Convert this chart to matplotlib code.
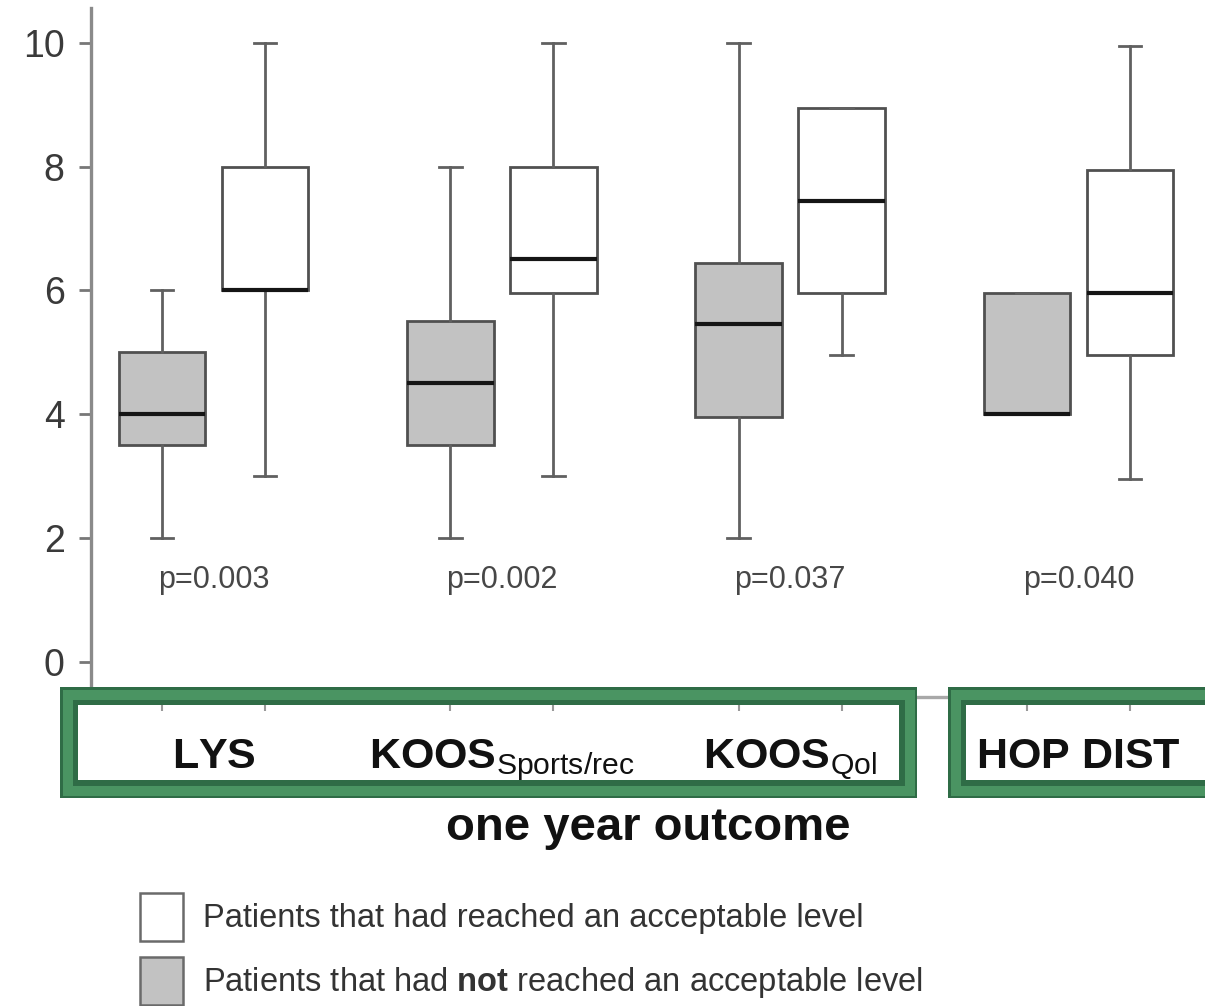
import matplotlib
matplotlib.use("Agg")
import matplotlib.pyplot as plt
from matplotlib.patches import Patch, PathPatch
from matplotlib.path import Path

plt.rcParams['font.family'] = ['Liberation Sans', 'DejaVu Sans']
plt.rcParams['mathtext.fontset'] = 'custom'
plt.rcParams['mathtext.rm'] = 'Liberation Sans'
plt.rcParams['mathtext.bf'] = 'Liberation Sans:bold'
plt.rcParams['mathtext.it'] = 'Liberation Sans:italic'

# ---------------- data ----------------
categories = ["LYS", "KOOS_Sports/rec", "KOOS_Qol", "HOP DIST"]
cat_labels = [r"$\mathbf{LYS}$", r"$\mathbf{KOOS}_{\mathrm{Sports/rec}}$",
              r"$\mathbf{KOOS}_{\mathrm{Qol}}$", r"$\mathbf{HOP\ DIST}$"]
p_values = ["p=0.003", "p=0.002", "p=0.037", "p=0.040"]

# not reached (gray)
not_whislo = [2.0, 2.0, 2.0, 4.0]
not_q1 = [3.5, 3.5, 3.95, 4.0]
not_med = [4.0, 4.5, 5.45, 4.0]
not_q3 = [5.0, 5.5, 6.45, 5.95]
not_whishi = [6.0, 8.0, 10.0, 5.95]

# reached (white)
yes_whislo = [3.0, 3.0, 4.95, 2.95]
yes_q1 = [6.0, 5.95, 5.95, 4.95]
yes_med = [6.0, 6.5, 7.45, 5.95]
yes_q3 = [8.0, 8.0, 8.95, 7.95]
yes_whishi = [10.0, 10.0, 8.95, 9.95]

yticks = [0, 2, 4, 6, 8, 10]
legend_labels = ["Patients that had reached an acceptable level",
                 r"Patients that had $\mathbf{not}$ reached an acceptable level"]
xlabel = "one year outcome"

# ---------------- figure ----------------
W, H = 1205, 1006
fig = plt.figure(figsize=(W / 100, H / 100), dpi=100)
ax = fig.add_axes([91 / W, 1 - 697 / H, 1 - 91 / W, (697 - 8) / H])

group_gap = 2.8
pos_not = [group_gap * i for i in range(len(categories))]
pos_yes = [group_gap * i + 1.0 for i in range(len(categories))]
centers = [group_gap * i + 0.5 for i in range(len(categories))]

def stats(lo, q1, med, q3, hi):
    return [dict(whislo=a, q1=b, med=c, q3=d, whishi=e, fliers=[])
            for a, b, c, d, e in zip(lo, q1, med, q3, hi)]

edge = "#505050"
common = dict(widths=0.84, capwidths=0.22, patch_artist=True, showfliers=False,
              whiskerprops=dict(color="#606060", lw=2.0),
              capprops=dict(color="#606060", lw=2.0),
              medianprops=dict(color="#151515", lw=3.0))

ax.bxp(stats(not_whislo, not_q1, not_med, not_q3, not_whishi), positions=pos_not,
       boxprops=dict(facecolor="#c2c2c2", edgecolor=edge, lw=2.0), **common)
ax.bxp(stats(yes_whislo, yes_q1, yes_med, yes_q3, yes_whishi), positions=pos_yes,
       boxprops=dict(facecolor="white", edgecolor=edge, lw=2.0), **common)

for c, p in zip(centers, p_values):
    ax.text(c, 1.33, p, ha="center", va="center", fontsize=22, color="#474747")

ax.set_xlim(-0.69, 10.13)
ax.set_ylim(-0.566, 10.56)

ax.set_yticks(yticks)
ax.set_yticklabels([str(t) for t in yticks])
ax.tick_params(axis="y", length=9, width=2, color="#777777", labelsize=27,
               labelcolor="#3a3a3a", pad=10)

ax.set_xticks(sorted(pos_not + pos_yes))
ax.set_xticklabels([])
ax.set_xticks(centers, minor=True)
ax.set_xticklabels(cat_labels, minor=True)
ax.tick_params(axis="x", which="major", length=10, width=1.5, color="#999999")
ax.tick_params(axis="x", which="minor", length=0, labelsize=31, pad=29,
               labelcolor="#111111")
ax.set_xlabel(xlabel, fontsize=34, fontweight="bold", color="#111111", labelpad=17)

for s in ["top", "right"]:
    ax.spines[s].set_visible(False)
ax.spines["left"].set_color("#8a8a8a")
ax.spines["left"].set_linewidth(2.4)
ax.spines["bottom"].set_color("#a8a8a8")
ax.spines["bottom"].set_linewidth(2.4)

# ---------------- green highlight boxes (filled rings) ----------------
def rect_path(x0, y0, x1, y1, reverse=False):
    pts = [(x0, y0), (x1, y0), (x1, y1), (x0, y1)]
    if reverse:
        pts = pts[::-1]
    fx = [(x / W, 1 - y / H) for x, y in pts]
    return Path(fx + [fx[0]], [Path.MOVETO] + [Path.LINETO] * 3 + [Path.CLOSEPOLY])

def ring(x0, y0, x1, y1, a, b, color):
    outer = rect_path(x0 + a, y0 + a, x1 - a, y1 - a)
    inner = rect_path(x0 + b, y0 + b, x1 - b, y1 - b, reverse=True)
    p = Path.make_compound_path(outer, inner)
    fig.add_artist(PathPatch(p, transform=fig.transFigure, facecolor=color,
                             edgecolor="none", zorder=10))

def green_box(x0, y0, x1, y1):
    ring(x0, y0, x1, y1, 0, 18, "#2f6c46")
    ring(x0, y0, x1, y1, 2.5, 12.5, "#4a9462")

green_box(60, 687, 917, 798)
green_box(948, 687, 1230, 798)

# ---------------- legend ----------------
handles = [Patch(facecolor="white", edgecolor="#6a6a6a", lw=1.8),
           Patch(facecolor="#c2c2c2", edgecolor="#6a6a6a", lw=1.8)]
leg = fig.legend(handles, legend_labels, loc="upper left",
                 bbox_to_anchor=(140 / W, 1 - 893 / H), frameon=False,
                 fontsize=23.5, handlelength=1.32, handleheight=1.88,
                 handletextpad=0.62, labelspacing=0.49, borderpad=0,
                 borderaxespad=0)
for t in leg.get_texts():
    t.set_color("#333333")

fig.savefig("out.png", dpi=100)
